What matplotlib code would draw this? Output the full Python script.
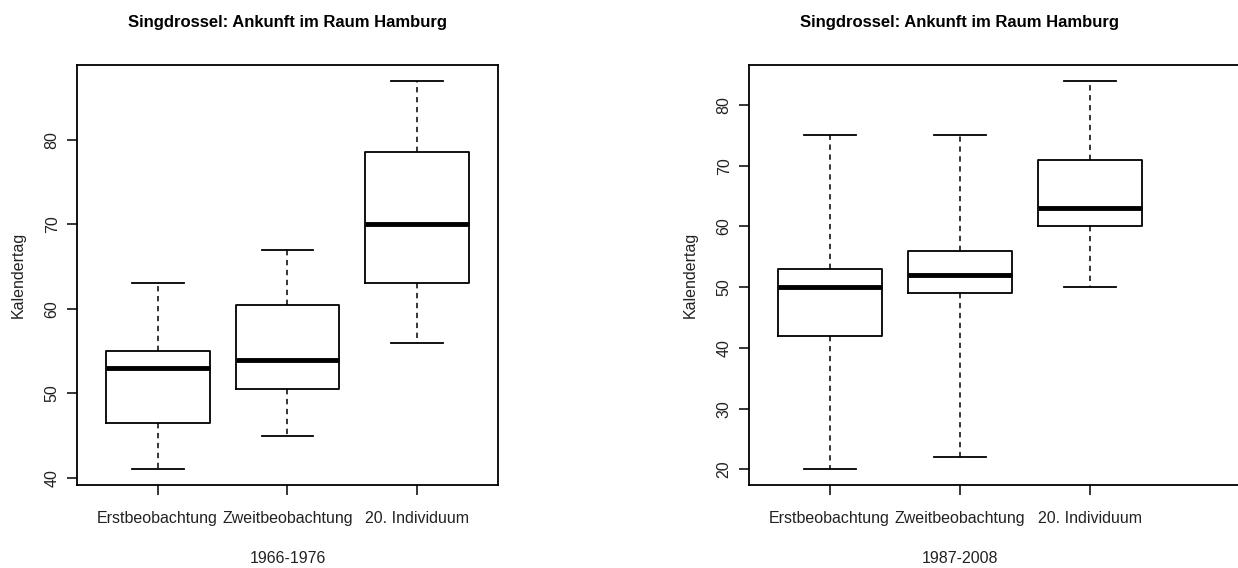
import matplotlib
matplotlib.use("Agg")
import matplotlib.pyplot as plt

plt.rcParams['font.family'] = ['Liberation Sans', 'DejaVu Sans']

categories = ["Erstbeobachtung", "Zweitbeobachtung", "20. Individuum"]

# whisker low, Q1, median, Q3, whisker high
early_low = [41, 45, 56]
early_q1 = [46.5, 50.5, 63]
early_med = [53, 54, 70]
early_q3 = [55, 60.5, 78.5]
early_high = [63, 67, 87]

late_low = [20, 22, 50]
late_q1 = [42, 49, 60]
late_med = [50, 52, 63]
late_q3 = [53, 56, 71]
late_high = [75, 75, 84]

title = "Singdrossel: Ankunft im Raum Hamburg"
periods = ["1966-1976", "1987-2008"]

W, H = 1238, 568
fig = plt.figure(figsize=(W / 100, H / 100), dpi=100)


def make_stats(low, q1, med, q3, high):
    stats = []
    for i in range(len(low)):
        stats.append(dict(whislo=low[i], q1=q1[i], med=med[i], q3=q3[i],
                          whishi=high[i], fliers=[]))
    return stats


def draw_panel(ax, stats, yticks, xlabel, ylim, xlim):
    ax.bxp(stats, positions=[1, 2, 3], widths=0.8, capwidths=0.4,
           showfliers=False, patch_artist=False,
           boxprops=dict(color='black', linewidth=1.3),
           medianprops=dict(color='black', linewidth=3.5, solid_capstyle='butt'),
           whiskerprops=dict(color='black', linewidth=1.1, linestyle=(0, (3.5, 3))),
           capprops=dict(color='black', linewidth=1.3))
    ax.set_xlim(*xlim)
    ax.set_ylim(*ylim)
    ax.set_xticks([1, 2, 3])
    ax.set_xticklabels(categories)
    ax.set_yticks(yticks)
    ax.set_yticklabels([str(t) for t in yticks], rotation=90, va='center')
    ax.tick_params(axis='both', direction='out', length=7, width=1.1,
                   labelsize=11.5, colors='black', labelcolor='#222222')
    ax.tick_params(axis='x', pad=12)
    ax.tick_params(axis='y', pad=5.5)
    for sp in ax.spines.values():
        sp.set_linewidth(1.3)
    # title and xlabel centred on the middle box (x = 2)
    cx = (2 - xlim[0]) / (xlim[1] - xlim[0])
    ax.set_title(title, fontsize=12, fontweight='bold', x=cx, y=1.0, pad=27)
    ax.set_xlabel(xlabel, fontsize=11.5, color='#222222')
    ax.xaxis.set_label_coords(cx, -0.158)
    ax.set_ylabel("Kalendertag", fontsize=11.5, color='#222222', labelpad=13.5)


# left panel
ax1 = fig.add_axes([77 / W, 1 - 485 / H, (498 - 77) / W, (485 - 65) / H])
draw_panel(ax1, make_stats(early_low, early_q1, early_med, early_q3, early_high),
           [40, 50, 60, 70, 80], periods[0], (39.16, 88.84), (0.38, 3.62))

# right panel, its right border runs off the picture
ax2 = fig.add_axes([749 / W, 1 - 485 / H, (1238 - 749) / W, (485 - 65) / H])
draw_panel(ax2, make_stats(late_low, late_q1, late_med, late_q3, late_high),
           [20, 30, 40, 50, 60, 70, 80], periods[1], (17.44, 86.56),
           (0.38, 0.38 + (1238 - 749) / 130.0))
ax2.spines['right'].set_visible(False)

fig.savefig("out.png", dpi=100, facecolor='white')
